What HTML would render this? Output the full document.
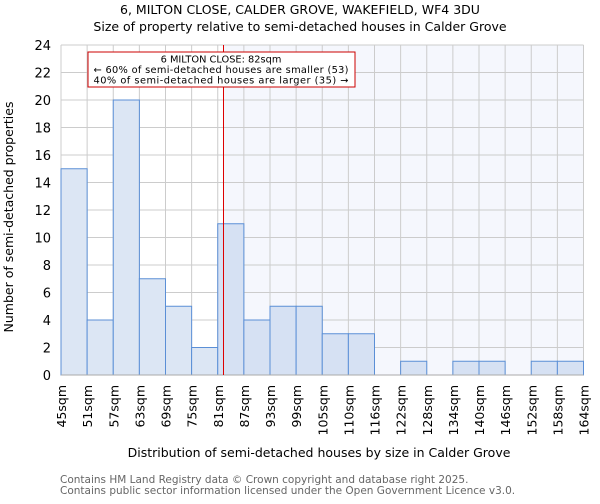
<!DOCTYPE html>
<html><head><meta charset="utf-8"><style>
body{margin:0;background:#fff;font-family:"DejaVu Sans","Liberation Sans",sans-serif}
</style></head><body>
<svg id="chart" width="600" height="500" xmlns="http://www.w3.org/2000/svg" font-family="DejaVu Sans, Liberation Sans, sans-serif">
<text x="300" y="14" text-anchor="middle" font-size="12.5">6, MILTON CLOSE, CALDER GROVE, WAKEFIELD, WF4 3DU</text>
<text x="300" y="31" text-anchor="middle" font-size="12.5">Size of property relative to semi-detached houses in Calder Grove</text>
<g id="plot"></g>
<text x="319" y="457" text-anchor="middle" font-size="12.5">Distribution of semi-detached houses by size in Calder Grove</text>
<text transform="translate(13,217) rotate(-90)" text-anchor="middle" font-size="12.5">Number of semi-detached properties</text>
<text x="60" y="483" font-size="10.5" fill="#666">Contains HM Land Registry data © Crown copyright and database right 2025.</text>
<text x="60" y="494" font-size="10.5" fill="#666">Contains public sector information licensed under the Open Government Licence v3.0.</text>
</svg>
<script>
const binLabels=["45sqm","51sqm","57sqm","63sqm","69sqm","75sqm","81sqm","87sqm","93sqm","99sqm","105sqm","110sqm","116sqm","122sqm","128sqm","134sqm","140sqm","146sqm","152sqm","158sqm","164sqm"];
const counts=[15,4,20,7,5,2,11,4,5,5,3,3,0,1,0,1,1,0,1,1];
const yTicks=[0,2,4,6,8,10,12,14,16,18,20,22,24];
const subjectBinPos=6.22;
const NS="http://www.w3.org/2000/svg";
const L=61,R=583.5,T=45,B=375,yMax=24;
const n=counts.length;
const xs=i=>L+(R-L)*i/n;
const ys=v=>B-(B-T)*v/yMax;
const g=document.getElementById('plot');
function mk(tag,attrs){const e=document.createElementNS(NS,tag);for(const k in attrs)e.setAttribute(k,attrs[k]);g.appendChild(e);return e;}
const mx=xs(subjectBinPos);
let sh=mk('rect',{x:mx,y:T,width:R-mx,height:B-T,fill:'#f5f7fd'});


for(const t of yTicks){
 const l=mk('line',{x1:L,x2:R,y1:ys(t),y2:ys(t),stroke:'#cccccc'});
 
 
 const tx=mk('text',{x:L-10,y:ys(t)+5,'text-anchor':'end','font-size':13});
 tx.textContent=t;
 
 
}
for(let i=0;i<=n;i++){
 const l=mk('line',{x1:xs(i),x2:xs(i),y1:T,y2:B,stroke:'#cccccc'});
 
 
 const tx=mk('text',{transform:`translate(${xs(i)+5},385) rotate(-90)`,'text-anchor':'end','font-size':12.5});
 tx.textContent=binLabels[i];
 
 
}
counts.forEach((c,i)=>{
 if(c<=0)return;
 const r=mk('rect',{x:xs(i),y:ys(c),width:xs(i+1)-xs(i),height:B-ys(c),fill:i>=6?'#d6e1f3':'#dce6f4',stroke:'#5b8fd6','stroke-width':1});
 
 
});
const ax=mk('line',{x1:L,x2:R,y1:B,y2:B,stroke:'#aaa'});


const ml=mk('line',{x1:mx,x2:mx,y1:T,y2:B,stroke:'#dd0000','stroke-width':1});


const box=mk('rect',{x:88,y:52,width:267,height:35,fill:'#fff',stroke:'#cc0000'});


const lines=["6 MILTON CLOSE: 82sqm","← 60% of semi-detached houses are smaller (53)","40% of semi-detached houses are larger (35) →"];
lines.forEach((s,k)=>{
 const t=mk('text',{x:221,y:62.5+k*10.5,'text-anchor':'middle','font-size':9.8,textLength:k===0?null:255});
 if(k===0)t.removeAttribute('textLength');
 t.textContent=s;
 
 
});
</script>
</body></html>
